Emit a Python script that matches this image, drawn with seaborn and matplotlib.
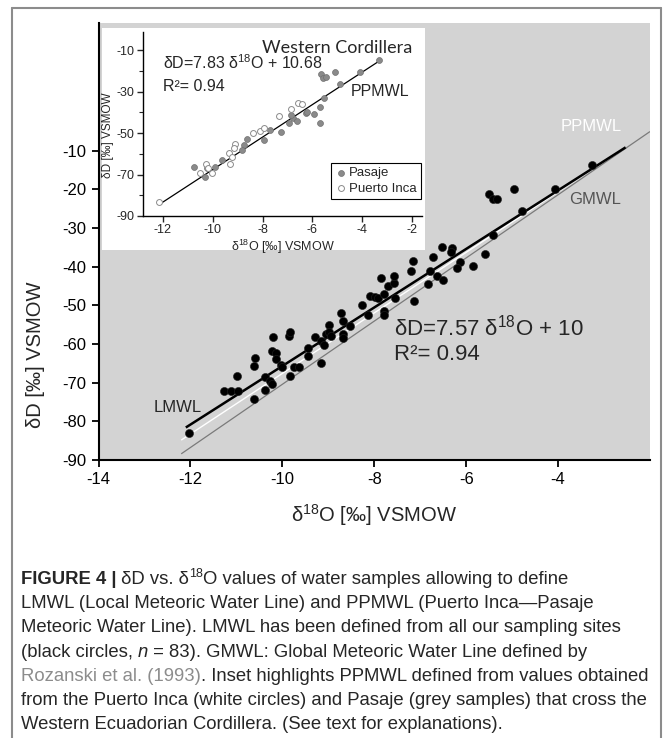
import matplotlib
matplotlib.use("Agg")
import matplotlib.pyplot as plt
import seaborn as sns
from matplotlib.lines import Line2D

# main plot: all sampling sites (black circles)
main_d18o = [-12.04, -11.26, -11.11, -10.97, -10.99, -10.62, -10.60, -10.62, -10.38, -10.38,
             -10.27, -10.22, -10.20, -10.22, -10.14, -10.14, -10.03, -10.00, -9.85, -9.83,
             -9.83, -9.74, -9.63, -9.45, -9.45, -9.30, -9.16, -9.16, -9.10, -9.05,
             -8.98, -8.98, -8.94, -8.72, -8.68, -8.68, -8.68, -8.52, -8.27, -8.14,
             -8.10, -7.99, -7.92, -7.78, -7.78, -7.78, -7.69, -7.56, -7.54, -7.85,
             -7.56, -7.15, -7.21, -7.14, -6.72, -6.79, -6.84, -6.63, -6.50, -6.30,
             -6.34, -6.52, -6.14, -6.21, -5.86, -5.60, -5.42, -4.79, -5.51, -5.42,
             -5.32, -4.97, -4.06, -3.26]
main_dD = [-82.9, -72.1, -72.1, -72.1, -68.2, -74.1, -63.5, -65.8, -68.6, -71.9,
           -69.7, -70.4, -58.2, -61.7, -62.3, -63.9, -65.4, -66.0, -58.0, -56.9,
           -68.2, -66.0, -66.0, -61.1, -63.2, -58.2, -64.8, -59.1, -60.2, -57.4,
           -55.0, -57.0, -58.0, -51.9, -54.1, -57.3, -58.4, -55.4, -49.9, -52.5,
           -47.7, -47.8, -48.1, -47.2, -51.5, -52.4, -45.1, -44.2, -48.1, -42.9,
           -42.5, -38.5, -41.2, -48.9, -37.4, -41.2, -44.4, -42.5, -43.4, -35.1,
           -36.3, -35.0, -38.9, -40.3, -39.9, -36.7, -31.9, -25.5, -21.2, -22.6,
           -22.6, -19.8, -19.8, -13.6]

# inset: Western Cordillera samples
pasaje_d18o = [-3.34, -4.10, -5.08, -5.64, -5.57, -5.45, -4.88, -5.55, -5.68, -5.68,
               -5.95, -6.26, -6.20, -6.78, -6.60, -6.95, -6.85, -7.25, -7.69, -7.93,
               -8.63, -8.76, -8.83, -9.63, -9.90, -10.23, -10.30, -10.77]
pasaje_dD = [-14.8, -20.4, -20.4, -21.7, -23.7, -23.2, -26.4, -33.3, -37.6, -45.0,
             -41.0, -40.5, -39.8, -42.9, -44.2, -45.3, -41.5, -49.7, -48.6, -53.4,
             -53.0, -55.8, -58.2, -63.0, -66.2, -67.0, -71.4, -66.2]
inca_d18o = [-12.17, -10.53, -10.26, -10.03, -10.20, -9.36, -9.23, -9.30, -9.10, -9.14,
             -8.39, -8.09, -7.96, -7.33, -6.86, -6.59, -6.42]
inca_dD = [-83.1, -69.1, -65.1, -69.1, -67.0, -59.8, -61.4, -64.9, -55.3, -57.0,
           -50.2, -48.9, -47.8, -41.8, -38.4, -35.4, -36.0]

# meteoric water lines: (slope, intercept, x range)
lmwl = (7.57, 10.0, [-12.1, -2.53])
ppmwl = (7.83, 10.68, [-12.2, -2.53])
gmwl = (8.17, 11.27, [-12.2, -2.0])
ppmwl_inset = (7.83, 10.68, [-12.15, -3.3])

sns.set_style("ticks")
plt.rcParams["font.family"] = ["Liberation Sans", "DejaVu Sans"]
plt.rcParams["axes.unicode_minus"] = False
plt.rcParams["mathtext.fontset"] = "custom"
plt.rcParams["mathtext.rm"] = "Liberation Sans"
plt.rcParams["mathtext.it"] = "Liberation Sans:italic"
plt.rcParams["mathtext.bf"] = "Liberation Sans:bold"

W, H = 663, 738
fig = plt.figure(figsize=(W / 100, H / 100), dpi=100)
fig.patch.set_facecolor("white")


def box(x0, y0, x1, y1):
    return [x0 / W, 1 - y1 / H, (x1 - x0) / W, (y1 - y0) / H]


def wl(line):
    a, b, xs = line
    return xs, [a * x + b for x in xs]


# ---- main axes ----
ax = fig.add_axes(box(98.5, 23, 650, 460))
ax.set_facecolor("#d3d3d3")
for line, lw, col in [(gmwl, 0.9, "#7a7a7a"), (ppmwl, 1.0, "white"), (lmwl, 1.8, "black")]:
    xs, ys = wl(line)
    ax.plot(xs, ys, color=col, lw=lw, zorder=2, solid_capstyle="butt")
sns.scatterplot(x=main_d18o, y=main_dD, ax=ax, color="black", s=34,
                edgecolor="#222222", linewidth=0.4, zorder=3)
ax.set_xlim(-14, -2)
ax.set_ylim(-90, 23)
ax.set_xticks([-14, -12, -10, -8, -6, -4])
ax.set_yticks(list(range(-90, 0, 10)))
ax.spines["top"].set_visible(False)
ax.spines["right"].set_visible(False)
for s in ["left", "bottom"]:
    ax.spines[s].set_linewidth(1.5)
    ax.spines[s].set_color("black")
ax.tick_params(direction="out", length=5, width=1.3, labelsize=12, colors="black")
ax.set_xlabel("δ$^{18}$O [‰] VSMOW", fontsize=14.5)
ax.set_ylabel("δD [‰] VSMOW", fontsize=14.5)
ax.xaxis.set_label_coords(0.5, -0.097)
ax.yaxis.set_label_coords(-0.097, 0.24)

ax.text(-12.81, -76.3, "LMWL", fontsize=12, va="center", ha="left")
ax.text(-7.56, -55.8, "δD=7.57 δ$^{18}$O + 10", fontsize=16, va="center", ha="left")
ax.text(-7.56, -62.8, "R²= 0.94", fontsize=16, va="center", ha="left")
ax.text(-3.95, -3.7, "PPMWL", fontsize=12, va="center", ha="left", color="white")
ax.text(-3.76, -22.6, "GMWL", fontsize=12, va="center", ha="left", color="#555555")

# ---- inset ----
bg = fig.add_axes(box(102, 28, 425, 250))
bg.set_xticks([])
bg.set_yticks([])
for s in bg.spines.values():
    s.set_visible(False)
bg.set_facecolor("white")

ins = fig.add_axes(box(143, 32, 422, 216))
ins.set_facecolor("none")
xs, ys = wl(ppmwl_inset)
ins.plot(xs, ys, color="black", lw=0.9, zorder=2)
sns.scatterplot(x=pasaje_d18o, y=pasaje_dD, ax=ins, color="#8a8a8a", edgecolor="#707070",
                linewidth=0.5, s=18, zorder=3, label="Pasaje")
sns.scatterplot(x=inca_d18o, y=inca_dD, ax=ins, color="white", edgecolor="#8a8a8a",
                linewidth=0.7, s=18, zorder=3, label="Puerto Inca")
ins.set_xlim(-12.8, -1.6)
ins.set_ylim(-90, -1.3)
ins.set_xticks([-12, -10, -8, -6, -4, -2])
ins.set_yticks([-10, -30, -50, -70, -90])
ins.set_yticks([-20, -40, -60, -80], minor=True)
ins.spines["top"].set_visible(False)
ins.spines["right"].set_visible(False)
for s in ["left", "bottom"]:
    ins.spines[s].set_linewidth(1.0)
    ins.spines[s].set_color("black")
ins.tick_params(which="major", direction="out", length=4, width=1.0, labelsize=9, pad=2)
ins.tick_params(which="minor", direction="out", length=3, width=0.8)
ins.set_xlabel("δ$^{18}$O [‰] VSMOW", fontsize=9)
ins.set_ylabel("δD [‰] VSMOW", fontsize=8.5)
ins.xaxis.set_label_coords(0.5, -0.12)
ins.yaxis.set_label_coords(-0.105, 0.44)

ins.text(-1.99, -9.0, "Western Cordillera", fontsize=13, ha="right", va="center",
         family=["Lato", "DejaVu Sans"])
ins.text(-12.0, -16.3, "δD=7.83 δ$^{18}$O + 10.68", fontsize=11.5, ha="left", va="center")
ins.text(-12.0, -27.8, "R²= 0.94", fontsize=11.5, ha="left", va="center")
ins.text(-4.48, -30.2, "PPMWL", fontsize=11.5, ha="left", va="center")

leg = ins.legend(loc="lower right", bbox_to_anchor=(0.995, 0.095), frameon=True,
                 fancybox=False, edgecolor="black", fontsize=9.5, handletextpad=0.1,
                 borderpad=0.3, labelspacing=0.25, handlelength=1.0, borderaxespad=0)
leg.get_frame().set_linewidth(0.8)
leg.get_frame().set_facecolor("white")
leg.get_frame().set_alpha(1)

# ---- outer frame ----
frame_col = "#8c8c8c"
fig.add_artist(Line2D([12 / W, 12 / W], [0, 1 - 8 / H], color=frame_col, lw=1.5))
fig.add_artist(Line2D([12 / W, 661 / W], [1 - 8 / H, 1 - 8 / H], color=frame_col, lw=1.5))
fig.add_artist(Line2D([661 / W, 661 / W], [0, 1 - 8 / H], color=frame_col, lw=1.5))

# ---- caption ----
cap_font = ["Liberation Sans", "DejaVu Sans"]
cap_size = 13.3
renderer = fig.canvas.get_renderer()


def cap_line(pieces, y_base):
    x = 21
    for txt, opts in pieces:
        opts = dict(opts)
        raise_px = opts.pop("raise", 0)
        t = fig.text(x / W, 1 - (y_base - raise_px) / H, txt, fontsize=opts.pop("size", cap_size),
                     family=cap_font, va="baseline", ha="left", **opts)
        bb = t.get_window_extent(renderer)
        x = bb.x1


caption = [
    [("FIGURE 4 |", {"fontweight": "bold"}), (" δD vs. δ", {}), ("18", {"size": 9, "raise": 7}),
     ("O values of water samples allowing to define", {})],
    [("LMWL (Local Meteoric Water Line) and PPMWL (Puerto Inca—Pasaje", {})],
    [("Meteoric Water Line). LMWL has been defined from all our sampling sites", {})],
    [("(black circles, ", {}), ("n", {"style": "italic"}),
     (" = 83). GMWL: Global Meteoric Water Line defined by", {})],
    [("Rozanski et al. (1993)", {"color": "#8c8c8c"}),
     (". Inset highlights PPMWL defined from values obtained", {})],
    [("from the Puerto Inca (white circles) and Pasaje (grey samples) that cross the", {})],
    [("Western Ecuadorian Cordillera. (See text for explanations).", {})],
]
for i, pieces in enumerate(caption):
    cap_line(pieces, 584 + i * 24.2)

fig.savefig("out.png", dpi=100)
